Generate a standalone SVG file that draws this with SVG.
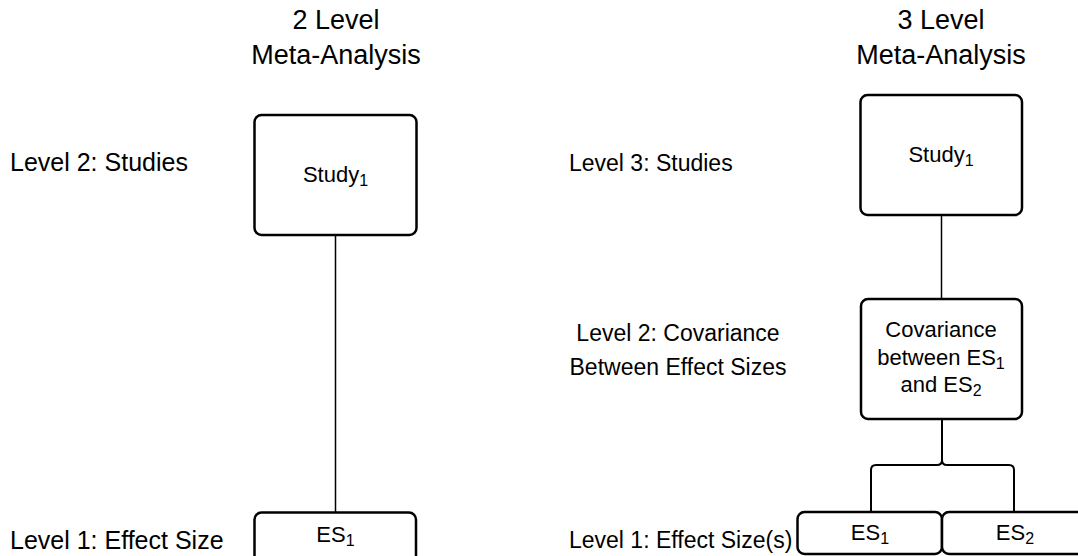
<svg xmlns="http://www.w3.org/2000/svg" width="1078" height="556" viewBox="0 0 1078 556">
<style>
text{font-family:"Liberation Sans",Arial,sans-serif;fill:#000}
.hdr{font-size:27px;text-anchor:middle}
.lblL{font-size:25px}
.lbl{font-size:23px}
.lblc{font-size:23px;text-anchor:middle}
.bt{font-size:22px;text-anchor:middle}
.sub{font-size:16px}
.box{fill:#fff;stroke:#000;stroke-width:2.5}
.con{fill:none;stroke:#000}
</style>
<rect width="1078" height="556" fill="#fff"/>
<g id="headers">
<text class="hdr" x="336" y="29">2 Level</text>
<text class="hdr" x="336" y="64">Meta-Analysis</text>
<text class="hdr" x="941" y="29">3 Level</text>
<text class="hdr" x="941" y="64">Meta-Analysis</text>
</g>
<g id="labels">
<text class="lblL" x="10" y="171">Level 2: Studies</text>
<text class="lblL" x="10" y="549">Level 1: Effect Size</text>
<text class="lbl" x="569" y="171">Level 3: Studies</text>
<text class="lblc" x="678" y="341">Level 2: Covariance</text>
<text class="lblc" x="678" y="375">Between Effect Sizes</text>
<text class="lbl" x="569" y="548">Level 1: Effect Size(s)</text>
</g>
<g id="connectors">
<line class="con" x1="335.5" y1="235" x2="335.5" y2="512" stroke-width="1.5"/>
<line class="con" x1="941.5" y1="215" x2="941.5" y2="299" stroke-width="1.5"/>
<path class="con" stroke-width="2" d="M942,419 V460 Q942,465 937,465 H876 Q871,465 871,470 V512 M942,460 Q942,465 947,465 H1009 Q1014,465 1014,470 V512"/>
</g>
<g id="study1-left">
<rect class="box" x="254.5" y="115" width="162" height="120" rx="7"/>
<text class="bt" x="335.5" y="182">Study<tspan class="sub" dy="4">1</tspan></text>
</g>
<g id="es1-left">
<rect class="box" x="254.5" y="512.5" width="161.5" height="60" rx="7"/>
<text class="bt" x="335.5" y="542">ES<tspan class="sub" dy="4">1</tspan></text>
</g>
<g id="study1-right">
<rect class="box" x="860.5" y="95" width="161.5" height="120" rx="7"/>
<text class="bt" x="941" y="162">Study<tspan class="sub" dy="4">1</tspan></text>
</g>
<g id="covariance">
<rect class="box" x="861" y="299" width="161" height="120" rx="7"/>
<text class="bt" x="941" y="337">Covariance</text>
<text class="bt" x="941" y="365">between ES<tspan class="sub" dy="4">1</tspan></text>
<text class="bt" x="941" y="392">and ES<tspan class="sub" dy="4">2</tspan></text>
</g>
<g id="es1-right">
<rect class="box" x="797.5" y="512" width="144.5" height="42" rx="7"/>
<text class="bt" x="870" y="540">ES<tspan class="sub" dy="4">1</tspan></text>
</g>
<g id="es2-right">
<rect class="box" x="942" y="512" width="145" height="42" rx="7"/>
<text class="bt" x="1015" y="540">ES<tspan class="sub" dy="4">2</tspan></text>
</g>
</svg>
